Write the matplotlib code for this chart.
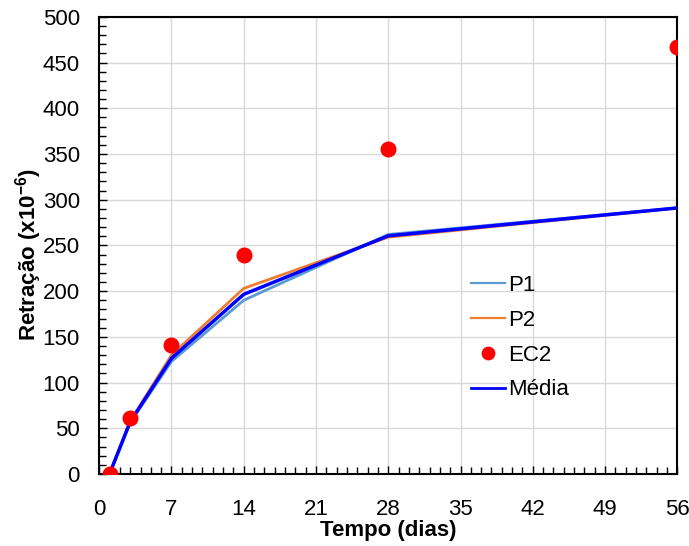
import matplotlib.pyplot as plt
from matplotlib.ticker import MultipleLocator

plt.rcParams['font.family'] = ['Liberation Sans', 'DejaVu Sans']
plt.rcParams['mathtext.fontset'] = 'custom'
plt.rcParams['mathtext.rm'] = 'Liberation Sans'
plt.rcParams['mathtext.bf'] = 'Liberation Sans:bold'

# idades (dias) e retracao (x10^-6)
dias = [1, 3, 7, 14, 28, 56]
p1 = [0, 56, 123, 190, 262, 291]
p2 = [0, 58, 130, 203, 259, 291]
ec2 = [0, 61, 141, 240, 355, 467]
media = [(a + b) / 2 for a, b in zip(p1, p2)]

fig = plt.figure(figsize=(6.89, 5.46), dpi=100)
ax = fig.add_axes([0.144, 0.132, 0.839, 0.837])

ax.plot(dias, p1, color='#5B9BD5', lw=2, label='P1', zorder=3)
ax.plot(dias, p2, color='#ED7D31', lw=2, label='P2', zorder=3)
ax.plot(dias, ec2, 'o', color='#FF0000', ms=10.5, label='EC2', zorder=5)
ax.plot(dias, media, color='#0000FF', lw=2.5, label='Média', zorder=4)

ax.set_xlim(0, 56)
ax.set_ylim(0, 500)
ax.xaxis.set_major_locator(MultipleLocator(7))
ax.xaxis.set_minor_locator(MultipleLocator(1))
ax.yaxis.set_major_locator(MultipleLocator(50))
ax.yaxis.set_minor_locator(MultipleLocator(10))
ax.grid(True, which='major', color='#D9D9D9', lw=1)
ax.set_axisbelow(True)
ax.tick_params(which='both', direction='in', labelsize=16, width=1, top=False, right=False)
ax.tick_params(which='major', length=6)
ax.tick_params(which='minor', length=5)
ax.tick_params(axis='x', which='major', pad=18)
ax.tick_params(axis='y', which='major', pad=14)
for s in ax.spines.values():
    s.set_linewidth(1.5)

ax.set_xlabel('Tempo (dias)', fontsize=16, fontweight='bold', labelpad=0)
ax.set_ylabel('Retração (x10$^{\\mathbf{-6}}$)', fontsize=16, fontweight='bold')
ax.yaxis.set_label_coords(-0.095, 0.479)

leg = ax.legend(loc='center left', bbox_to_anchor=(0.609, 0.298), frameon=False, fontsize=16,
                handlelength=1.5, labelspacing=0.62, handletextpad=0.15, markerscale=0.85)
for h in leg.get_lines():
    if h.get_label() != 'EC2':
        h.set_linewidth(h.get_linewidth() * 0.8)

fig.savefig('out.png', dpi=100)
